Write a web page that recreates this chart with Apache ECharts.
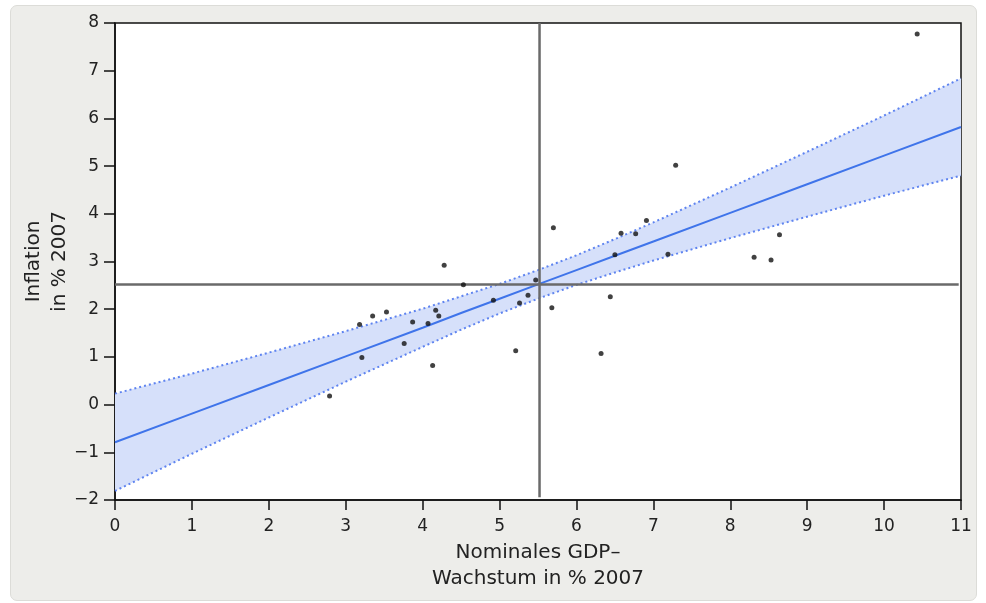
<!DOCTYPE html>
<html>
<head>
<meta charset="utf-8">
<script src="https://cdn.jsdelivr.net/npm/echarts@6/dist/echarts.min.js"></script>
<style>
html, body { margin: 0; padding: 0; background: #fff; }
#frame { position: absolute; left: 10px; top: 5px; width: 965px; height: 594px;
         background: #ededea; border: 1px solid #dcdcd8; border-radius: 7px; }
#chart { position: absolute; left: 0; top: 0; width: 986px; height: 603px; }
</style>
</head>
<body>
<div id="frame"></div>
<div id="chart"></div>
<script>
// GDP growth (x) vs. inflation (y), 2007
var gdpGrowth = [2.79, 3.18, 3.21, 3.35, 3.53, 3.76, 3.87, 4.07, 4.13, 4.17, 4.21, 4.28,
                 4.53, 4.92, 5.21, 5.26, 5.37, 5.47, 5.68, 5.70, 6.32, 6.44, 6.50, 6.58,
                 6.77, 6.91, 7.19, 7.29, 8.31, 8.53, 8.64, 10.43];
var inflation = [0.18, 1.68, 0.99, 1.86, 1.94, 1.28, 1.73, 1.70, 0.82, 1.98, 1.86, 2.92,
                 2.51, 2.19, 1.13, 2.13, 2.29, 2.61, 2.03, 3.71, 1.07, 2.26, 3.14, 3.59,
                 3.58, 3.86, 3.15, 5.02, 3.09, 3.03, 3.56, 7.77];

// fit line and confidence band
var fitX     = [0, 1, 2, 3, 4, 4.5, 5, 5.5, 6, 6.5, 7, 8, 9, 10, 11];
var fitY     = [-0.79, -0.19, 0.41, 1.01, 1.61, 1.92, 2.22, 2.52, 2.82, 3.12, 3.42, 4.02, 4.62, 5.22, 5.82];
var bandUp   = [0.23, 0.65, 1.09, 1.54, 2.01, 2.27, 2.53, 2.82, 3.13, 3.47, 3.82, 4.55, 5.30, 6.06, 6.84];
var bandLow  = [-1.81, -1.03, -0.27, 0.48, 1.21, 1.57, 1.91, 2.22, 2.51, 2.77, 3.02, 3.49, 3.94, 4.38, 4.80];

var meanX = 5.52;
var meanY = 2.52;

var xTicks = [0, 11, 1];
var yTicks = [-2, 8, 1];

function pairs(xs, ys) {
    return xs.map(function (x, i) { return [x, ys[i]]; });
}

var chart = echarts.init(document.getElementById('chart'));
var font = 'DejaVu Sans';

function minus(v) {
    return String(v).replace('-', '\u2212');
}

var option = {
    animation: false,
    grid: {
        left: 115, top: 23, right: 25, bottom: 103,
        outerBoundsMode: 'none',
        show: true, backgroundColor: '#fff', borderColor: '#111', borderWidth: 1.5
    },
    xAxis: {
        type: 'value', min: xTicks[0], max: xTicks[1], interval: xTicks[2],
        name: 'Nominales GDP–\nWachstum in % 2007',
        nameLocation: 'middle', nameGap: 38,
        nameTextStyle: { fontFamily: font, fontSize: 20, color: '#222', lineHeight: 26 },
        axisLine: { onZero: false, lineStyle: { color: '#111', width: 1.5 } },
        axisTick: { length: 10, lineStyle: { color: '#111', width: 1.5 } },
        axisLabel: { margin: 18, fontFamily: font, fontSize: 17, color: '#222' },
        splitLine: { show: false }
    },
    yAxis: {
        type: 'value', min: yTicks[0], max: yTicks[1], interval: yTicks[2],
        name: 'Inflation\nin % 2007',
        nameLocation: 'middle', nameGap: 42, nameRotate: 90, nameMoveOverlap: false,
        nameTextStyle: { fontFamily: font, fontSize: 20, color: '#222', lineHeight: 26 },
        axisLine: { onZero: false, lineStyle: { color: '#111', width: 1.5 } },
        axisTick: { length: 11, lineStyle: { color: '#111', width: 1.5 } },
        axisLabel: { margin: 16, fontFamily: font, fontSize: 17, color: '#222', formatter: minus },
        splitLine: { show: false }
    },
    series: [
        {
            type: 'custom',
            silent: true,
            data: [0],
            z: 1,
            renderItem: function (params, api) {
                var up = fitX.map(function (x, i) { return api.coord([x, bandUp[i]]); });
                var low = fitX.map(function (x, i) { return api.coord([x, bandLow[i]]); }).reverse();
                return {
                    type: 'polygon',
                    shape: { points: up.concat(low) },
                    style: { fill: '#d6e0fa' }
                };
            }
        },
        {
            type: 'line', data: pairs(fitX, bandUp), symbol: 'none', z: 2,
            lineStyle: { color: '#5f84f0', width: 2, type: [2, 3] }
        },
        {
            type: 'line', data: pairs(fitX, bandLow), symbol: 'none', z: 2,
            lineStyle: { color: '#5f84f0', width: 2, type: [2, 3] }
        },
        {
            type: 'line', data: pairs(fitX, fitY), symbol: 'none', z: 3,
            lineStyle: { color: '#3f74ea', width: 2 }
        },
        {
            type: 'line', data: [[xTicks[0], meanY], [10.97, meanY]], symbol: 'none', z: 4,
            lineStyle: { color: '#6a6a6a', width: 2.5 }
        },
        {
            type: 'line', data: [[meanX, -1.94], [meanX, yTicks[1]]], symbol: 'none', z: 4,
            lineStyle: { color: '#6a6a6a', width: 2.5 }
        },
        {
            type: 'scatter', data: pairs(gdpGrowth, inflation), symbolSize: 5, z: 5,
            itemStyle: { color: '#111' }
        }
    ]
};
chart.setOption(option);
</script>
</body>
</html>
